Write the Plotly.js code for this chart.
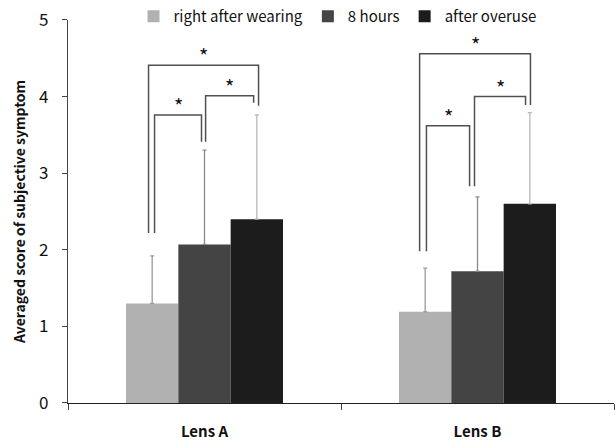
<!DOCTYPE html>
<html>
<head>
<meta charset="utf-8">
<script src="https://cdn.plot.ly/plotly-3.0.1.min.js"></script>
<style>html,body{margin:0;padding:0;background:#fff;}#chart{width:616px;height:441px;}</style>
</head>
<body>
<div id="chart"></div>
<script>
// ---- data ----
const categories = ["Lens A", "Lens B"];
const seriesNames = ["right after wearing", "8 hours", "after overuse"];
const rightAfter = [1.30, 1.19];
const eightHours = [2.07, 1.72];
const afterOveruse = [2.40, 2.60];
const sdRightAfter = [0.62, 0.57];
const sdEightHours = [1.23, 0.97];
const sdAfterOveruse = [1.36, 1.19];
const yTicks = [0, 1, 2, 3, 4, 5];

// significance brackets: [categoryIndex, xLeftOffset, xRightOffset, yTop, yLeftEnd, yRightEnd]
const brackets = [
  [0, -0.205, 0.198, 4.41, 2.22, 3.88],
  [0, -0.183, -0.011, 3.76, 2.22, 3.41],
  [0, 0.004, 0.180, 4.01, 3.41, 3.92],
  [1, -0.212, 0.194, 4.56, 1.98, 3.89],
  [1, -0.187, -0.029, 3.62, 1.98, 2.83],
  [1, -0.011, 0.176, 4.00, 2.83, 3.89]
];

const colors = ["#b1b1b1", "#444444", "#1c1c1c"];
const errColors = ["#9a9a9a", "#8a8a8a", "#b8b8b8"];
const vals = [rightAfter, eightHours, afterOveruse];
const sds = [sdRightAfter, sdEightHours, sdAfterOveruse];

const traces = seriesNames.map((n, i) => ({
  type: "bar",
  name: n,
  x: categories,
  y: vals[i],
  marker: {color: colors[i], line: {width: 0}},
  error_y: {type: "data", array: sds[i], symmetric: false, arrayminus: [0, 0],
            color: errColors[i], thickness: 1.3, width: 2}
}));

const shapes = [];
const annotations = [];
brackets.forEach(b => {
  const [c, xl, xr, yt, yl, yr] = b;
  shapes.push({
    type: "path", xref: "x", yref: "y",
    path: `M ${c + xl},${yl} L ${c + xl},${yt} L ${c + xr},${yt} L ${c + xr},${yr}`,
    line: {color: "#505050", width: 1.5}
  });
  annotations.push({
    x: c + (xl + xr) / 2, y: yt, xref: "x", yref: "y",
    text: "*", showarrow: false, yanchor: "bottom", yshift: -7,
    font: {family: "Noto Sans CJK KR, Noto Sans, sans-serif", size: 20, color: "#111"}
  });
});

const layout = {
  width: 616, height: 441,
  margin: {l: 68, r: 2, t: 0, b: 38},
  paper_bgcolor: "#fff", plot_bgcolor: "#fff",
  font: {family: "Noto Sans CJK KR, Noto Sans, sans-serif", color: "#111"},
  barmode: "group", bargap: 0.425, bargroupgap: 0,
  showlegend: true,
  legend: {orientation: "h", x: 0.12, y: 1.0, xanchor: "left", yanchor: "top",
           font: {size: 15, color: "#111"}, itemwidth: 30, tracegroupgap: 0,
           bgcolor: "rgba(0,0,0,0)"},
  xaxis: {
    type: "category", range: [-0.5, 1.5],
    showline: true, linecolor: "#222", linewidth: 1.3,
    ticks: "outside", tickson: "boundaries", ticklen: 6, tickcolor: "#444",
    ticklabelstandoff: 15,
    tickfont: {size: 15, color: "#111", weight: "bold"},
    showgrid: false, zeroline: false
  },
  yaxis: {
    domain: [0, 0.9504],
    range: [0, 5], tickvals: yTicks, ticktext: yTicks.map(String),
    showline: true, linecolor: "#444", linewidth: 1.2,
    ticks: "outside", ticklen: 5, tickcolor: "#444",
    ticklabelstandoff: 10,
    tickfont: {size: 17, color: "#111"},
    showgrid: false, zeroline: false,
    title: {text: "Averaged score of subjective symptom", standoff: 10,
            font: {size: 14, color: "#111", weight: "bold"}}
  },
  shapes: shapes,
  annotations: annotations
};

Plotly.newPlot("chart", traces, layout, {displayModeBar: false, staticPlot: true});
</script>
</body>
</html>
